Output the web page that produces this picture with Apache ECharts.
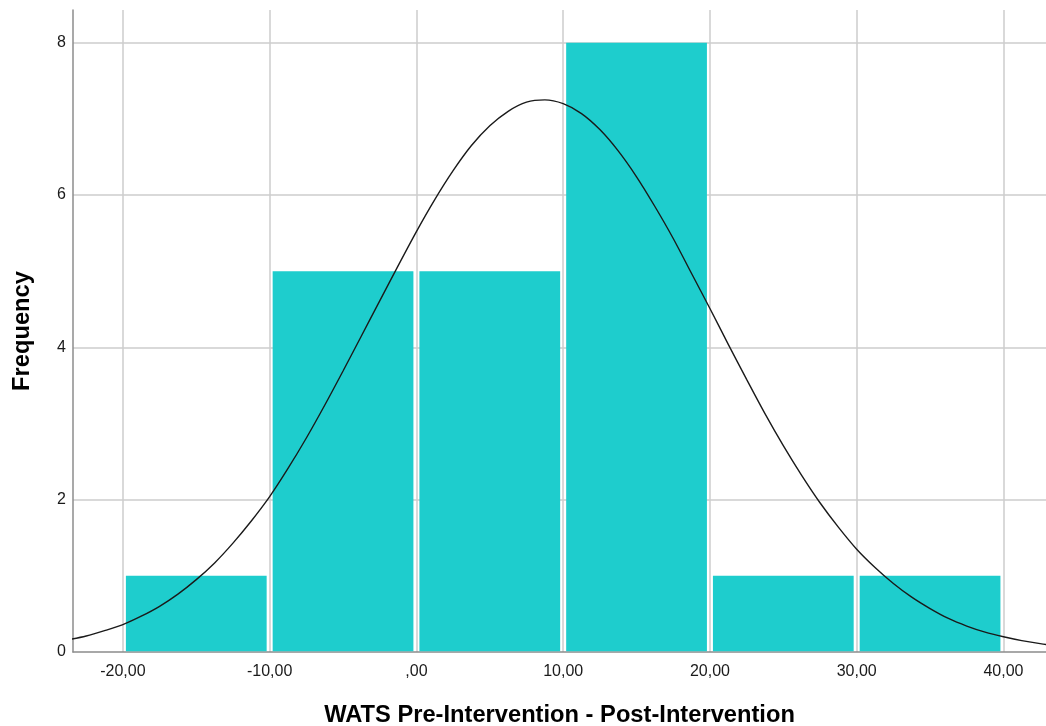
<!DOCTYPE html>
<html>
<head>
<meta charset="utf-8">
<script src="https://cdn.jsdelivr.net/npm/echarts@6/dist/echarts.min.js"></script>
<style>
html,body{margin:0;padding:0;background:#fff;overflow:hidden;}
#chart{width:1046px;height:726px;}
</style>
</head>
<body>
<div id="chart"></div>
<script>
// Histogram bins
const binStarts = [-20, -10, 0, 10, 20, 30];
const binEnds   = [-10, 0, 10, 20, 30, 40];
const counts    = [1, 5, 5, 8, 1, 1];

// Normal curve points (x step 1.25)
const curveX = [-25, -23.75, -22.5, -21.25, -20, -18.75, -17.5, -16.25, -15, -13.75, -12.5, -11.25, -10, -8.75, -7.5, -6.25, -5, -3.75, -2.5, -1.25, 0, 1.25, 2.5, 3.75, 5, 6.25, 7.5, 8.75, 10, 11.25, 12.5, 13.75, 15, 16.25, 17.5, 18.75, 20, 21.25, 22.5, 23.75, 25, 26.25, 27.5, 28.75, 30, 31.25, 32.5, 33.75, 35, 36.25, 37.5, 38.75, 40, 41.25, 42.5, 43.75, 45];
const curveY = [0.12, 0.16, 0.21, 0.28, 0.36, 0.47, 0.60, 0.76, 0.95, 1.17, 1.43, 1.72, 2.04, 2.41, 2.81, 3.24, 3.69, 4.15, 4.61, 5.07, 5.52, 5.94, 6.32, 6.65, 6.91, 7.10, 7.22, 7.25, 7.20, 7.07, 6.86, 6.58, 6.24, 5.85, 5.43, 4.97, 4.51, 4.04, 3.58, 3.13, 2.71, 2.32, 1.96, 1.64, 1.35, 1.11, 0.90, 0.72, 0.57, 0.44, 0.34, 0.26, 0.20, 0.15, 0.11, 0.08, 0.06];

const xLimits = [-23.4, 42.9];
const yLimits = [0, 8.43];

const barData = binStarts.map((s, i) => [s, binEnds[i], counts[i]]);
const curveData = curveX.map((x, i) => [x, curveY[i]]);

const chart = echarts.init(document.getElementById('chart'), null, {renderer: 'canvas', width: 1046, height: 726});
const fontFamily = '"Liberation Sans", Arial, sans-serif';

chart.setOption({
  animation: false,
  backgroundColor: '#ffffff',
  grid: {left: 73, right: 0, top: 10, bottom: 74, containLabel: false, outerBoundsMode: 'none'},
  xAxis: {
    type: 'value',
    min: xLimits[0], max: xLimits[1],
    minInterval: 10, maxInterval: 10,
    name: 'WATS Pre-Intervention - Post-Intervention',
    nameLocation: 'middle',
    nameGap: 51,
    nameTextStyle: {fontFamily, fontSize: 23.7, fontWeight: 'bold', color: '#000'},
    axisLine: {show: true, onZero: false, lineStyle: {color: '#8c8c8c', width: 1.5}},
    axisTick: {show: false},
    axisLabel: {
      margin: 12, fontFamily, fontSize: 16, color: '#1a1a1a',
      formatter: v => {
        if (Math.abs(v % 10) > 1e-6) return '';
        if (v === 0) return ',00';
        return v.toFixed(2).replace('.', ',');
      }
    },
    splitLine: {show: true, showMinLine: false, showMaxLine: false, lineStyle: {color: '#cccccc', width: 1.5}}
  },
  yAxis: {
    type: 'value',
    min: yLimits[0], max: yLimits[1],
    minInterval: 2, maxInterval: 2,
    name: 'Frequency',
    nameLocation: 'middle',
    nameGap: 39,
    nameTextStyle: {fontFamily, fontSize: 23.7, fontWeight: 'bold', color: '#000'},
    axisLine: {show: true, onZero: false, lineStyle: {color: '#8c8c8c', width: 1.5}},
    axisTick: {show: false},
    axisLabel: {
      margin: 7, fontFamily, fontSize: 16, color: '#1a1a1a',
      formatter: v => (Math.abs(v % 2) > 1e-6 ? '' : String(v))
    },
    splitLine: {show: true, showMinLine: false, showMaxLine: false, lineStyle: {color: '#cccccc', width: 1.5}}
  },
  series: [
    {
      type: 'custom',
      z: 2,
      data: barData,
      renderItem: (params, api) => {
        const p0 = api.coord([api.value(0), api.value(2)]);
        const p1 = api.coord([api.value(1), 0]);
        return {
          type: 'rect',
          shape: {x: p0[0] + 3, y: p0[1], width: p1[0] - p0[0] - 6, height: p1[1] - p0[1] - 0.75},
          style: {fill: '#1ecdcd'}
        };
      }
    },
    {
      type: 'line',
      z: 3,
      data: curveData,
      smooth: 0.3,
      clip: true,
      showSymbol: false,
      symbol: 'none',
      lineStyle: {color: '#1a1a1a', width: 1.4}
    }
  ]
});
</script>
</body>
</html>
